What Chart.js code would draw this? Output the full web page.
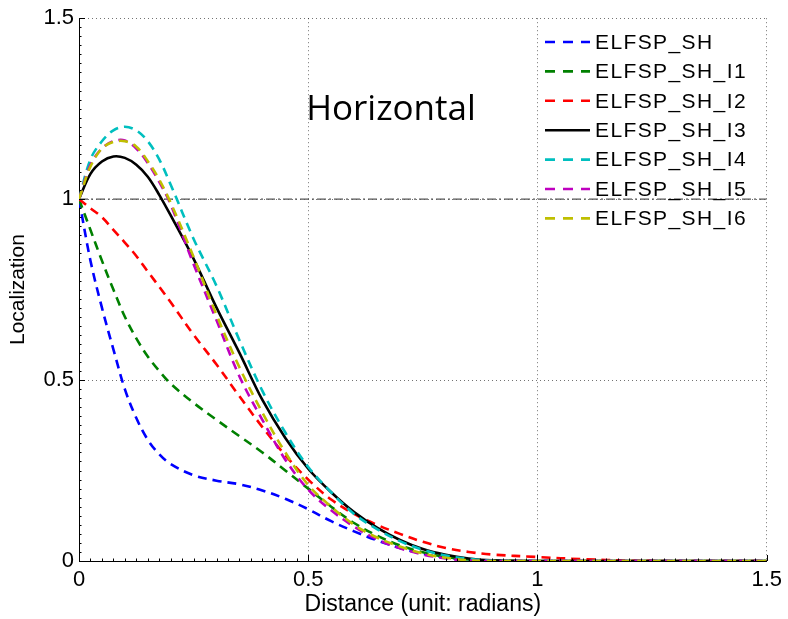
<!DOCTYPE html>
<html>
<head>
<meta charset="utf-8">
<script src="https://cdn.jsdelivr.net/npm/chart.js@4/dist/chart.umd.min.js"></script>
<style>
  html, body { margin: 0; padding: 0; background: #fff; }
  #wrap { width: 788px; height: 619px; }
</style>
</head>
<body>
<div id="wrap"><canvas id="chart" width="788" height="619"></canvas></div>
<script>
// data
const distance = [0, 0.025, 0.05, 0.075, 0.1, 0.125, 0.15, 0.175, 0.2, 0.25, 0.3, 0.35, 0.4, 0.45, 0.5,
                  0.55, 0.6, 0.65, 0.7, 0.75, 0.8, 0.85, 0.9, 1.0, 1.1, 1.2, 1.3, 1.4, 1.5];

const elfspSH   = [1, 0.83, 0.70, 0.585, 0.475, 0.395, 0.335, 0.295, 0.268, 0.237, 0.222, 0.212, 0.195, 0.172, 0.143,
                   0.11, 0.082, 0.057, 0.036, 0.02, 0.009, 0.003, 0, 0, 0, 0, 0, 0, 0];
const elfspI1   = [1, 0.915, 0.83, 0.75, 0.675, 0.615, 0.565, 0.525, 0.49, 0.437, 0.39, 0.345, 0.3, 0.25, 0.2,
                   0.15, 0.105, 0.07, 0.043, 0.024, 0.011, 0.004, 0.001, 0, 0, 0, 0, 0, 0];
const elfspI2   = [1, 0.975, 0.95, 0.915, 0.88, 0.843, 0.8, 0.758, 0.715, 0.625, 0.543, 0.455, 0.37, 0.292, 0.225,
                   0.17, 0.13, 0.1, 0.075, 0.053, 0.036, 0.025, 0.018, 0.011, 0.005, 0.001, 0, 0, 0];
const elfspI3   = [1, 1.07, 1.104, 1.118, 1.114, 1.095, 1.062, 1.012, 0.955, 0.835, 0.7, 0.575, 0.445, 0.34, 0.255,
                   0.19, 0.135, 0.092, 0.058, 0.033, 0.017, 0.007, 0.002, 0, 0, 0, 0, 0, 0];
const elfspI4   = [1, 1.11, 1.16, 1.19, 1.2, 1.19, 1.16, 1.11, 1.04, 0.89, 0.76, 0.61, 0.47, 0.355, 0.26,
                   0.19, 0.13, 0.088, 0.055, 0.031, 0.015, 0.006, 0.001, 0, 0, 0, 0, 0, 0];
const elfspI5   = [1, 1.095, 1.14, 1.16, 1.162, 1.14, 1.1, 1.048, 0.985, 0.82, 0.665, 0.51, 0.39, 0.28, 0.197,
                   0.14, 0.095, 0.06, 0.035, 0.018, 0.007, 0.001, 0, 0, 0, 0, 0, 0, 0];
const elfspI6   = [1, 1.09, 1.14, 1.158, 1.16, 1.145, 1.105, 1.054, 0.99, 0.84, 0.68, 0.535, 0.41, 0.3, 0.21,
                   0.15, 0.1, 0.065, 0.04, 0.021, 0.009, 0.002, 0, 0, 0, 0, 0, 0, 0];

const refLineX = [0, 1.5];
const refLineY = [1, 1];

const seriesNames = ['ELFSP_SH', 'ELFSP_SH_I1', 'ELFSP_SH_I2', 'ELFSP_SH_I3', 'ELFSP_SH_I4', 'ELFSP_SH_I5', 'ELFSP_SH_I6'];
const seriesData  = [elfspSH, elfspI1, elfspI2, elfspI3, elfspI4, elfspI5, elfspI6];
const seriesColors = ['#0000ff', '#008000', '#ff0000', '#000000', '#00bfbf', '#bf00bf', '#bfbf00'];

const xTicks = [0, 0.5, 1, 1.5];
const yTicks = [0, 0.5, 1, 1.5];

const FONT = "'Liberation Sans', Arial, Helvetica, sans-serif";

function toPoints(xs, ys) {
	return xs.map((x, i) => ({ x: x, y: ys[i] }));
}

const datasets = seriesNames.map((name, i) => ({
	label: name,
	data: toPoints(distance, seriesData[i]),
	borderColor: seriesColors[i],
	borderWidth: 2.6,
	borderDash: name === 'ELFSP_SH_I3' ? [] : [9, 6],
	pointRadius: 0,
	tension: 0.35,
	fill: false,
	order: 20 - i
}));

// dash-dot reference at localization = 1
datasets.push({
	label: '',
	data: toPoints(refLineX, refLineY),
	borderColor: '#555555',
	borderWidth: 1.2,
	borderDash: [9, 3, 2, 3],
	pointRadius: 0,
	order: 30
});

// legend drawn inside the plot, matlab style (no box)
const insideLegend = {
	id: 'insideLegend',
	afterDatasetsDraw(chart) {
		const ctx = chart.ctx;
		ctx.save();
		ctx.font = '21px ' + FONT;
		ctx.letterSpacing = '1.4px';
		ctx.textBaseline = 'middle';
		ctx.fillStyle = '#000';
		let row = 0;
		chart.data.datasets.forEach(ds => {
			if (!ds.label) return;
			const y = 42 + row * 29.4;
			ctx.beginPath();
			ctx.strokeStyle = ds.borderColor;
			ctx.lineWidth = ds.borderWidth;
			ctx.setLineDash(ds.borderDash.length ? [10, 8] : []);
			ctx.moveTo(545, y);
			ctx.lineTo(590, y);
			ctx.stroke();
			ctx.setLineDash([]);
			ctx.fillText(ds.label, 595, y + 1);
			row++;
		});
		ctx.restore();
	}
};

// "Horizontal" annotation + inward matlab-ish ticks
const extras = {
	id: 'extras',
	afterDraw(chart) {
		const ctx = chart.ctx;
		const xs = chart.scales.x, ys = chart.scales.y;
		const area = chart.chartArea;
		ctx.save();
		ctx.fillStyle = '#000';
		ctx.font = "35px 'Open Sans', sans-serif";
		ctx.textAlign = 'center';
		ctx.textBaseline = 'alphabetic';
		ctx.fillText('Horizontal', 391, 120);

		ctx.strokeStyle = '#000';
		ctx.lineWidth = 1;
		ctx.beginPath();
		for (let v = 0; v <= 1.5001; v += 0.025) {
			const major = Math.abs(v * 2 - Math.round(v * 2)) < 1e-6;
			const len = major ? 6 : 2.5;
			const px = Math.round(xs.getPixelForValue(v)) + 0.5;
			ctx.moveTo(px, area.bottom);
			ctx.lineTo(px, area.bottom - len);
			const py = Math.round(ys.getPixelForValue(v)) + 0.5;
			ctx.moveTo(area.left, py);
			ctx.lineTo(area.left + len, py);
		}
		ctx.stroke();
		ctx.restore();
	}
};

const gridOpts = {
	color: 'rgba(0,0,0,0.55)',
	lineWidth: 1,
	drawTicks: false
};

new Chart(document.getElementById('chart').getContext('2d'), {
	type: 'line',
	data: { datasets: datasets },
	options: {
		responsive: false,
		animation: false,
		events: [],
		layout: { padding: { left: 0, right: 19, top: 14, bottom: 0 } },
		plugins: {
			legend: { display: false },
			tooltip: { enabled: false }
		},
		scales: {
			x: {
				type: 'linear',
				min: 0,
				max: 1.5,
				afterFit(scale) { scale.height = 58; },
				afterBuildTicks(scale) { scale.ticks = xTicks.map(v => ({ value: v })); },
				ticks: {
					color: '#000',
					font: { family: FONT, size: 22 },
					padding: 6,
					maxRotation: 0,
					callback: v => String(v)
				},
				grid: gridOpts,
				border: { display: true, color: '#000', width: 1, dash: [1, 3] },
				title: {
					display: true,
					text: 'Distance (unit: radians)',
					color: '#000',
					font: { family: FONT, size: 23 },
					padding: { top: 0, bottom: 1 }
				}
			},
			y: {
				type: 'linear',
				min: 0,
				max: 1.5,
				afterFit(scale) { scale.width = 79; },
				afterBuildTicks(scale) { scale.ticks = yTicks.map(v => ({ value: v })); },
				ticks: {
					color: '#000',
					font: { family: FONT, size: 22 },
					padding: 5,
					callback: v => String(v)
				},
				grid: gridOpts,
				border: { display: true, color: '#000', width: 1, dash: [1, 3] },
				title: {
					display: true,
					text: 'Localization',
					color: '#000',
					font: { family: FONT, size: 21 },
					padding: { top: 6, bottom: 0 }
				}
			}
		}
	},
	plugins: [insideLegend, extras]
});
</script>
</body>
</html>
